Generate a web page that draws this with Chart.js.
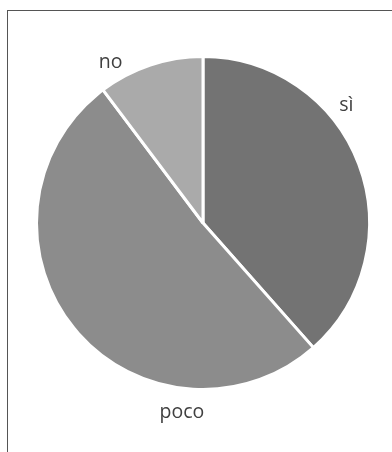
<!DOCTYPE html>
<html>
<head>
<meta charset="utf-8">
<script src="https://cdn.jsdelivr.net/npm/chart.js@4/dist/chart.umd.min.js"></script>
<style>
  html, body { margin: 0; padding: 0; background: #fff; overflow: hidden; }
  #frame { position: absolute; left: 7px; top: 10px; width: 400px; height: 460px; border: 1px solid #555; }
  #wrap { position: absolute; left: 0; top: 0; width: 392px; height: 452px; }
</style>
</head>
<body>
<div id="frame"></div>
<div id="wrap"><canvas id="chart" width="392" height="452"></canvas></div>
<script>
// categories and counts
const categories = ['sì', 'poco', 'no'];
const counts = [15, 20, 4];
const sliceColors = ['#737373', '#8c8c8c', '#aaaaaa'];
// where along each slice's arc its label sits (0 = start, 1 = end)
const labelAlong = [0.36, 0.26, 0.2];

// put the category names outside the pie, near their slice
const outsideLabels = {
    id: 'outsideLabels',
    afterDraw(chart, args, options) {
        const ctx = chart.ctx;
        const meta = chart.getDatasetMeta(0);
        ctx.save();
        ctx.font = options.font;
        ctx.fillStyle = options.color;
        ctx.textAlign = 'center';
        ctx.textBaseline = 'middle';
        meta.data.forEach((arc, i) => {
            const a = arc.startAngle + (arc.endAngle - arc.startAngle) * options.along[i];
            const r = arc.outerRadius + options.gap;
            // small nudge down, the text sits a bit low in the original
            ctx.fillText(chart.data.labels[i], arc.x + Math.cos(a) * r, arc.y + Math.sin(a) * r + options.dy);
        });
        ctx.restore();
    }
};

new Chart(document.getElementById('chart'), {
    type: 'pie',
    data: {
        labels: categories,
        datasets: [{
            data: counts,
            backgroundColor: sliceColors,
            borderColor: '#ffffff',
            borderWidth: 3
        }]
    },
    options: {
        responsive: false,
        animation: false,
        layout: { padding: { left: 35, right: 21, top: 55, bottom: 61 } },
        plugins: {
            legend: { display: false },
            tooltip: { enabled: false },
            outsideLabels: {
                font: '19.5px "Open Sans"',
                color: '#404040',
                gap: 21,
                dy: 3,
                along: labelAlong
            }
        }
    },
    plugins: [outsideLabels]
});
</script>
</body>
</html>
